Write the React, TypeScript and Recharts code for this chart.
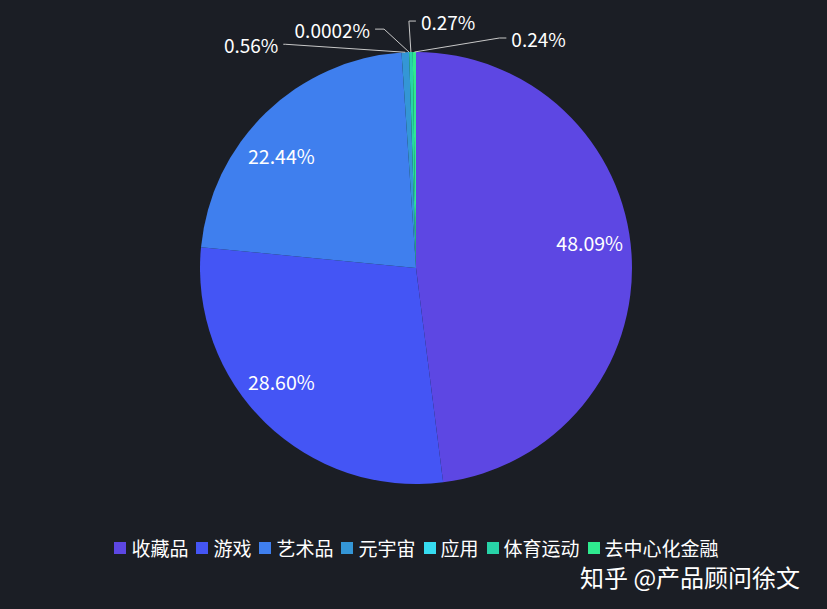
import React from "react";
import { PieChart, Pie, Cell, Legend } from "recharts";

const categories = ["收藏品", "游戏", "艺术品", "元宇宙", "应用", "体育运动", "去中心化金融"];
const shares = [48.09, 28.6, 22.44, 0.56, 0.0002, 0.27, 0.24];
const colors = ["#5d47e3", "#4455f5", "#3f7fee", "#3496d6", "#36dcf0", "#28d3a8", "#2fea8f"];

const BG = "#1b1e25";
const FONT = '"Noto Sans CJK SC", "Noto Sans", sans-serif';
const RADIAN = Math.PI / 180;

// leader line layout for the tiny slices: elbow offset from the slice edge, then a short horizontal run
const outerLabelLayout: Record<number, { dx: number; dy: number; run: number }> = {
  3: { dx: -120, dy: -8, run: -2 },
  4: { dx: -25, dy: -23, run: -9 },
  5: { dx: -2, dy: -31, run: 7 },
  6: { dx: 85, dy: -14, run: 7 },
};

// small nudges so the inside labels sit where the original put them
const insideLabelNudge: Record<number, { dx: number; dy: number }> = {
  0: { dx: -2, dy: -14 },
  1: { dx: -12, dy: -13 },
  2: { dx: -12, dy: 14 },
};

const fmt = (v: number) => (v < 0.01 ? String(v) : v.toFixed(2)) + "%";

const data = categories.map((name, i) => ({ name, value: shares[i] }));

function renderLabel(props: any) {
  const { cx, cy, midAngle, outerRadius, index, value } = props;
  const cos = Math.cos(-midAngle * RADIAN);
  const sin = Math.sin(-midAngle * RADIAN);
  const layout = outerLabelLayout[index];
  if (!layout) {
    const r = outerRadius * 0.815;
    const n = insideLabelNudge[index] || { dx: 0, dy: 0 };
    return (
      <text
        x={cx + r * cos + n.dx}
        y={cy + r * sin + n.dy}
        fill="#fff"
        fontSize={19.5}
        fontFamily={FONT}
        textAnchor="middle"
        dominantBaseline="central"
      >
        {fmt(value)}
      </text>
    );
  }
  const sx = cx + outerRadius * cos;
  const sy = cy + outerRadius * sin;
  const ex = sx + layout.dx;
  const ey = sy + layout.dy;
  const tx = ex + layout.run;
  const right = layout.run > 0;
  return (
    <g>
      <polyline points={`${sx},${sy} ${ex},${ey} ${tx},${ey}`} fill="none" stroke="#c8c8c8" strokeWidth={1} />
      <text
        x={tx + (right ? 5 : -5)}
        y={ey}
        fill="#fff"
        fontSize={19}
        fontFamily={FONT}
        textAnchor={right ? "start" : "end"}
        dominantBaseline="central"
      >
        {fmt(value)}
      </text>
    </g>
  );
}

function LegendContent() {
  return (
    <div style={{ display: "flex", justifyContent: "center", alignItems: "center", fontFamily: FONT }}>
      {categories.map((c, i) => (
        <div
          key={c}
          style={{ display: "flex", alignItems: "center", marginRight: i < categories.length - 1 ? 8 : 0 }}
        >
          <span style={{ width: 12, height: 12, background: colors[i], marginRight: 5, display: "inline-block" }} />
          <span style={{ color: "#fff", fontSize: 19, lineHeight: "20px" }}>{c}</span>
        </div>
      ))}
    </div>
  );
}

export default function App() {
  return (
    <div style={{ position: "absolute", left: 0, top: 0, width: 827, height: 609, background: BG, overflow: "hidden" }}>
      <PieChart width={827} height={609} margin={{ top: 0, right: 0, bottom: 0, left: 0 }}>
        <Pie
          data={data}
          dataKey="value"
          nameKey="name"
          cx={416}
          cy={268}
          outerRadius={216}
          startAngle={90}
          endAngle={-270}
          stroke="none"
          label={renderLabel}
          labelLine={false}
          isAnimationActive={false}
        >
          {data.map((d, i) => (
            <Cell key={d.name} fill={colors[i]} />
          ))}
        </Pie>
        <Legend
          content={<LegendContent />}
          wrapperStyle={{ position: "absolute", left: 3, top: 538, width: 827 }}
        />
      </PieChart>
      <div
        style={{
          position: "absolute",
          left: 580,
          top: 565,
          color: "#fff",
          fontSize: 24,
          lineHeight: "24px",
          fontFamily: FONT,
          whiteSpace: "nowrap",
        }}
      >
        知乎 @产品顾问徐文
      </div>
    </div>
  );
}
